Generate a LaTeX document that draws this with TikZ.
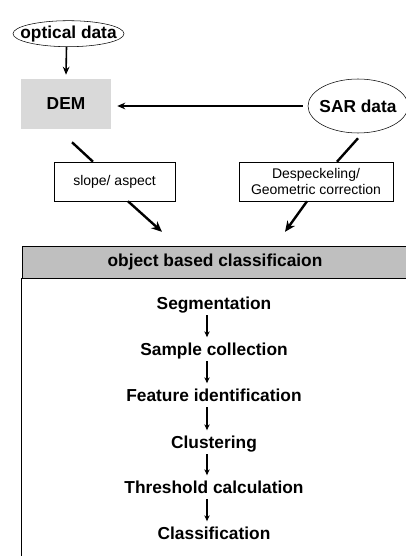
\documentclass[tikz,border=0pt]{standalone}
\usepackage{fontspec}
\setmainfont{Liberation Sans}
\usetikzlibrary{arrows.meta,fit,calc,positioning,shapes.geometric}

\begin{document}
\begin{tikzpicture}[x=0.75pt, y=-0.75pt,
                    SRC/.style={ellipse, draw=black, thin, inner sep=0pt, font=\fontsize{13}{15}\selectfont\bfseries},
                    PROC/.style={rectangle, draw=none, fill=black!15, inner sep=0pt, minimum width=67.5pt, minimum height=37.5pt, font=\fontsize{13}{15}\selectfont\bfseries},
                    NOTE/.style={rectangle, draw=black, thin, fill=white, inner sep=0pt, minimum height=29.25pt, align=center, font=\fontsize{10.5}{12}\selectfont},
                    HEAD/.style={rectangle, draw=black, thin, fill=black!25, inner sep=0pt, minimum width=289.5pt, minimum height=24.3pt, font=\fontsize{13}{15}\selectfont\bfseries},
                    STEP/.style={inner sep=1.5pt, text height=9.5pt, text depth=2.7pt, font=\fontsize{13}{15}\selectfont\bfseries},
                    LINK/.style={line width=1.8pt},
                    FLOW/.style={-{Stealth[length=8pt, width=7pt]}, line width=1.8pt},
                    FEED/.style={-{Stealth[length=6pt, width=5pt]}, line width=1.2pt},
                    NEXT/.style={-{Stealth[length=4.5pt, width=4pt]}, line width=1pt, shorten <=0pt, shorten >=2.5pt},
                ]
                \useasboundingbox (0,0) rectangle (406,556);
                \clip (0,0) rectangle (406,556);

                % inputs
                \node[SRC, minimum width=83.25pt, minimum height=19.5pt] (Optical) at (68.5,33.7) {\makebox[0pt]{optical data}};
                \node[PROC]  (DEM)  at (66,104) {DEM};
                \node[SRC, minimum width=75pt, minimum height=40.5pt] (SAR) at (358,106) {\makebox[0pt]{SAR data}};

                \node[NOTE, minimum width=90.75pt] (Slope) at (114.5,181.5) {slope/ aspect};
                \node[NOTE, minimum width=115.5pt] (Despeck) at (316,181.5) {Despeckeling/\\Geometric correction};

                \draw[FEED] ([shift={(-2,0)}]Optical.south) -- ([shift={(0,-4)}]DEM.north);
                \draw[FEED] ([shift={(-5,0)}]SAR.west) -- ([shift={(6,2)}]DEM.east);
                \draw[LINK] ([shift={(6,13)}]DEM.south) -- ([shift={(-21.5,0)}]Slope.north);
                \draw[LINK] ([shift={(0,5)}]SAR.south) -- ([shift={(21,0)}]Despeck.north);

                % classification block
                \node[HEAD] (OBC) at (215,262) {object based classificaion};
                \draw[thin] (OBC.south west) -- ++(0,330) -| (OBC.south east);

                \draw[FLOW] ([shift={(13.5,0)}]Slope.south) -- ([shift={(-53,-13.7)}]OBC.north);
                \draw[FLOW] ([shift={(-9,0)}]Despeck.south) -- ([shift={(70,-13.7)}]OBC.north);

                \node[STEP] (S1) at (214,305) {Segmentation};
                \node[STEP] (S2) at (214,351) {Sample collection};
                \node[STEP] (S3) at (214,397) {Feature identification};
                \node[STEP] (S4) at (214,444) {Clustering};
                \node[STEP] (S5) at (214,489) {Threshold calculation};
                \node[STEP] (S6) at (214,535) {Classification};

                \foreach \a/\b in {S1/S2, S2/S3, S3/S4, S4/S5, S5/S6}
                    \draw[NEXT] ([shift={(-7,0)}]\a.south) -- ([shift={(-7,0)}]\b.north);

            \end{tikzpicture}
\end{document}
